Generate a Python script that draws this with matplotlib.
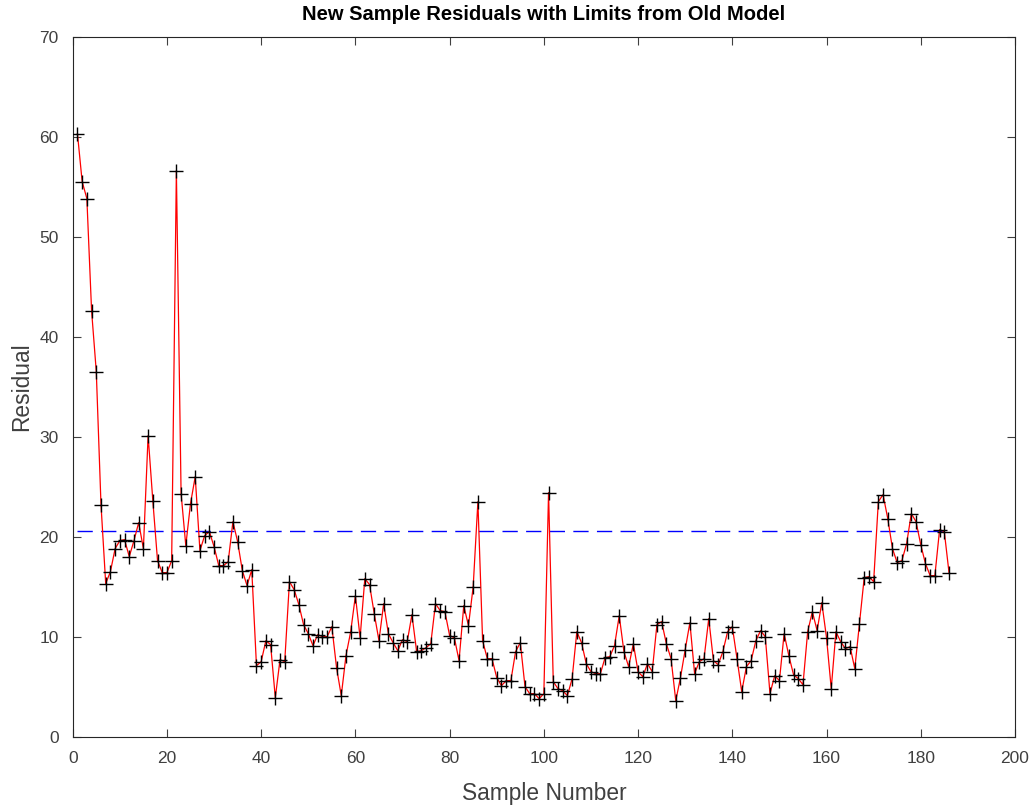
import numpy as np
import matplotlib
matplotlib.use("Agg")
import matplotlib.pyplot as plt

# residuals, samples 1..186
residuals = [
    60.3, 55.5, 53.8, 42.6, 36.5, 23.2, 15.3, 16.5, 18.8, 19.6,
    19.7, 18.0, 19.6, 21.4, 18.8, 30.1, 23.6, 17.6, 16.4, 16.4,
    17.6, 56.6, 24.3, 19.1, 23.3, 26.0, 18.6, 20.1, 20.5, 19.0,
    17.1, 17.1, 17.5, 21.5, 19.5, 16.6, 15.1, 16.7, 7.1, 7.5,
    9.6, 9.2, 3.9, 7.7, 7.5, 15.5, 14.7, 13.2, 11.2, 10.3,
    9.1, 10.2, 10.0, 10.0, 11.0, 6.9, 4.1, 8.1, 10.5, 14.1,
    9.9, 15.8, 15.2, 12.3, 9.6, 13.3, 10.3, 9.4, 8.6, 9.7,
    9.5, 12.2, 8.5, 8.6, 8.9, 9.3, 13.3, 12.6, 12.5, 10.1,
    9.9, 7.6, 13.1, 11.1, 15.0, 23.5, 9.6, 7.8, 7.8, 5.9,
    5.1, 5.6, 5.6, 8.5, 9.4, 5.0, 4.3, 4.3, 3.8, 4.3,
    24.4, 5.5, 4.8, 4.6, 4.1, 5.8, 10.5, 9.4, 7.3, 6.5,
    6.3, 6.3, 7.9, 8.0, 9.1, 12.1, 8.5, 7.0, 9.3, 6.5,
    6.0, 7.3, 6.5, 11.2, 11.5, 9.3, 7.8, 3.6, 5.9, 8.7,
    11.4, 6.3, 7.5, 7.8, 11.8, 7.6, 7.2, 8.5, 10.5, 11.0,
    7.8, 4.5, 7.0, 7.6, 9.6, 10.6, 10.0, 4.3, 6.1, 5.6,
    10.3, 8.1, 6.2, 5.8, 5.2, 10.5, 12.5, 10.6, 13.4, 9.9,
    4.8, 10.5, 9.5, 8.8, 9.0, 6.8, 11.3, 15.9, 16.0, 15.5,
    23.5, 24.2, 21.8, 18.8, 17.4, 17.6, 19.3, 22.3, 21.5, 19.2,
    17.3, 16.1, 16.1, 20.7, 20.5, 16.4,
]
sample_number = np.arange(1, len(residuals) + 1)
limit_value = 20.55

x_ticks = list(range(0, 201, 20))
y_ticks = list(range(0, 71, 10))

title_text = "New Sample Residuals with Limits from Old Model"
x_label = "Sample Number"
y_label = "Residual"


def draw_chart():
    plt.rcParams["font.family"] = ["Liberation Sans", "DejaVu Sans"]
    fig = plt.figure(figsize=(10.36, 8.06), dpi=100)
    ax = fig.add_axes([0.0702, 0.086, 0.9095, 0.8687])

    ax.plot(sample_number, residuals, color="red", linewidth=0.9, zorder=2)
    ax.plot(sample_number, residuals, linestyle="none", marker="+",
            color="black", markersize=10, markeredgewidth=1.0, zorder=3)
    ax.plot([sample_number[0], sample_number[-1]], [limit_value, limit_value],
            color="blue", linewidth=1.0, dashes=(11, 6), zorder=1)

    ax.set_xlim(0, 200)
    ax.set_ylim(0, 70)
    ax.set_xticks(x_ticks)
    ax.set_yticks(y_ticks)

    grey = "#404040"
    ax.tick_params(direction="in", length=6, width=0.8, top=True, right=True,
                   labelsize=12.5, colors=grey)
    ax.tick_params(axis="x", pad=10)
    ax.tick_params(axis="y", pad=10)
    for spine in ax.spines.values():
        spine.set_color("#262626")
        spine.set_linewidth(0.8)

    ax.set_title(title_text, fontsize=14.5, fontweight="bold", pad=12)
    ax.set_xlabel(x_label, fontsize=16.4, color=grey, labelpad=12)
    ax.set_ylabel(y_label, fontsize=16.4, color=grey, labelpad=4.5)

    fig.savefig("out.png", dpi=100)


if __name__ == "__main__":
    draw_chart()
